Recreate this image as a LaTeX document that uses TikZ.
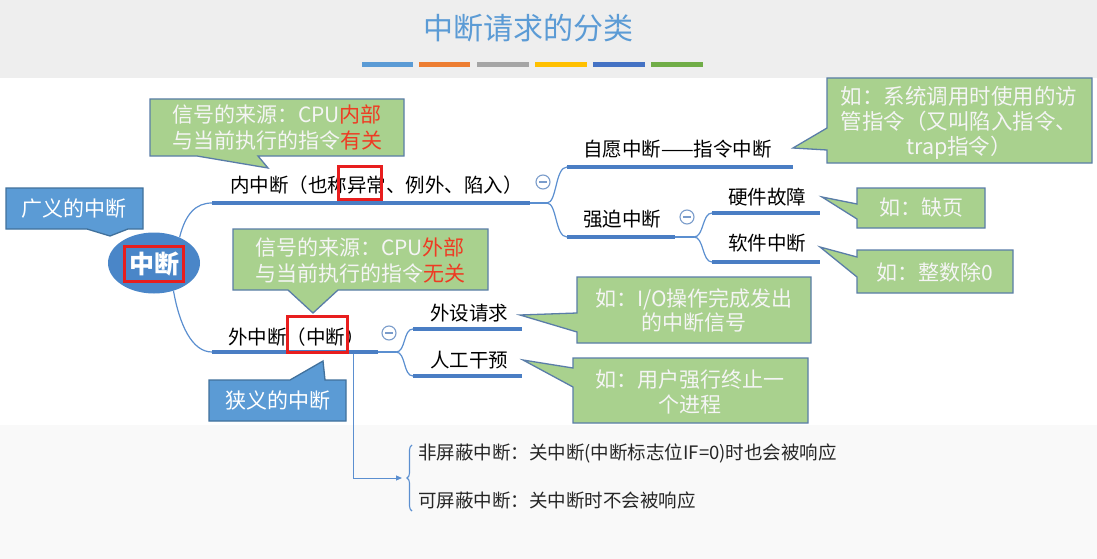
\documentclass[tikz,border=0pt]{standalone}
\usepackage{fontspec}
\setmainfont{Noto Sans CJK SC}
\usetikzlibrary{shapes.geometric,decorations.pathreplacing,arrows.meta}
\definecolor{hdr}{HTML}{EEEEEE}
\definecolor{lowbg}{HTML}{F9F9F9}
\definecolor{titleblue}{HTML}{5B9BD5}
\definecolor{bar1}{HTML}{5B9BD5}
\definecolor{bar2}{HTML}{ED7D31}
\definecolor{bar3}{HTML}{A5A5A5}
\definecolor{bar4}{HTML}{FFC000}
\definecolor{bar5}{HTML}{4472C4}
\definecolor{bar6}{HTML}{70AD47}
\definecolor{linethick}{HTML}{4A7EC4}
\definecolor{linethin}{HTML}{5B8FD0}
\definecolor{rootfill}{HTML}{4A86C8}
\definecolor{cgreen}{HTML}{A9D18E}
\definecolor{cborder}{HTML}{5A7DA8}
\definecolor{cblue}{HTML}{5B9BD5}
\definecolor{cblueb}{HTML}{41719C}
\definecolor{hired}{HTML}{EE3B23}
\definecolor{boxred}{HTML}{E81E1E}
\definecolor{mincirc}{HTML}{7A9CCB}
\tikzset{
  lbl/.style={anchor=base west, inner sep=0pt, font=\fontsize{19.5}{22}\selectfont, text=black},
  lowlbl/.style={anchor=base west, inner sep=0pt, font=\fontsize{18.5}{22}\selectfont, text=black!85},
  br/.style={draw=linethick, line width=3.5pt},
  tn/.style={draw=linethin, line width=1.2pt},
  gcall/.style={fill=cgreen, draw=cborder, line width=1.3pt, line join=miter},
  bcall/.style={fill=cblue, draw=cblueb, line width=1.3pt, line join=miter},
  ctext/.style={align=center, text=white!96!black, font=\fontsize{21}{26}\selectfont, inner sep=0pt},
  redbox/.style={draw=boxred, line width=3pt},
  minusc/.style={circle, draw=mincirc, fill=white, line width=1.1pt, minimum size=14pt, inner sep=0pt,
    path picture={\draw[mincirc, line width=1.1pt] ([xshift=-4pt]path picture bounding box.center) -- ([xshift=4pt]path picture bounding box.center);}}
}
\begin{document}
\begin{tikzpicture}[x=1pt,y=-1pt]
\useasboundingbox (0,0) rectangle (1097,559);
% backgrounds
\fill[hdr] (0,0) rectangle (1097,78);
\fill[white] (0,78) rectangle (1097,425);
\fill[lowbg] (0,425) rectangle (1097,559);
% title
\node[text=titleblue, font=\fontsize{30}{34}\selectfont, inner sep=0pt] (title) at (528,28) {中断请求的分类};
\fill[bar1] (362,62) rectangle (413,67);
\fill[bar2] (419,62) rectangle (470,67);
\fill[bar3] (477,62) rectangle (529,67);
\fill[bar4] (535,62) rectangle (587,67);
\fill[bar5] (593,62) rectangle (645,67);
\fill[bar6] (651,62) rectangle (703,67);

% root
\node[ellipse, fill=rootfill, minimum width=92pt, minimum height=61pt, inner sep=0pt] (root) at (154,263) {};
\node[text=white, font=\fontsize{25}{28}\selectfont\bfseries, inner sep=0pt] (roottxt) at (154,264) {中断};
\draw[redbox] (124,246) rectangle (183,281);

% coordinates of branch lines
\coordinate (inL) at (212,203); \coordinate (inR) at (530,203); \coordinate (inJ) at (547,203);
\coordinate (vL) at (567,167); \coordinate (vR) at (793,167);
\coordinate (fL) at (567,237); \coordinate (fR) at (675,237); \coordinate (fJ) at (694,237);
\coordinate (hL) at (712,213); \coordinate (hR) at (820,213);
\coordinate (sL) at (712,262); \coordinate (sR) at (820,262);
\coordinate (outL) at (212,352); \coordinate (outR) at (378,352); \coordinate (outJ) at (396,352);
\coordinate (pL) at (413,329); \coordinate (pR) at (522,329);
\coordinate (mL) at (413,376); \coordinate (mR) at (522,376);
\coordinate (vt) at (353,352); \coordinate (vb) at (353,478); \coordinate (arr) at (402,478);

% thin connectors
\draw[tn] (root.45) .. controls +(6,-24) and +(-16,0) .. (inL);
\draw[tn] (root.-55) .. controls +(6,34) and +(-20,0) .. (outL);
\draw[tn] (inR) -- (inJ);
\draw[tn] (inJ) .. controls +(10,0) and +(-12,0) .. (vL);
\draw[tn] (inJ) .. controls +(10,0) and +(-12,0) .. (fL);
\draw[tn] (fR) -- (fJ);
\draw[tn] (fJ) .. controls +(10,0) and +(-10,0) .. (hL);
\draw[tn] (fJ) .. controls +(10,0) and +(-10,0) .. (sL);
\draw[tn] (outR) -- (outJ);
\draw[tn] (outJ) .. controls +(10,0) and +(-10,0) .. (pL);
\draw[tn] (outJ) .. controls +(10,0) and +(-10,0) .. (mL);
\draw[linethin, line width=1pt, -{Triangle[length=6pt,width=5pt]}] (vt) -- (vb) -- (arr);

% thick lines
\draw[br] (inL) -- (inR);
\draw[br] (vL) -- (vR);
\draw[br] (fL) -- (fR);
\draw[br] (hL) -- (hR);
\draw[br] (sL) -- (sR);
\draw[br] (outL) -- (outR);
\draw[br] (pL) -- (pR);
\draw[br] (mL) -- (mR);

% minus circles
\node[minusc] (m1) at (543,182) {};
\node[minusc] (m2) at (687,217) {};
\node[minusc] (m3) at (389,333) {};

% labels
\node[lbl] (inner) at (230,192) {内中断（也称异常、例外、陷入）};
\draw[redbox] (338,166) rectangle (381,199);
\node[lbl] (vol) at (583,157) {自愿中断——指令中断};
\node[lbl] (force) at (583,226) {强迫中断};
\node[lbl] (hw) at (728,204) {硬件故障};
\node[lbl] (sw) at (728,250) {软件中断};
\node[lbl] (outer) at (228,344) {外中断（中断）};
\draw[redbox] (287,316) rectangle (347,352);
\node[lbl] (periph) at (430,320) {外设请求};
\node[lbl] (manual) at (430,367) {人工干预};

% brace and lower text
\draw[linethin, line width=1.1pt, decorate, decoration={brace, amplitude=5pt}] (412,511) -- (412,445);
\node[lowlbl] (nmi) at (418,459) {非屏蔽中断：关中断(中断标志位IF=0)时也会被响应};
\node[lowlbl] (mi) at (418,507) {可屏蔽中断：关中断时不会被响应};

% callouts: blue
\draw[bcall] (6,188) -- (143,188) -- (143,229) -- (128,229) -- (110,236) -- (87,229) -- (6,229) -- cycle;
\node[ctext, text=white] (broad) at (74,209) {广义的中断};
\draw[bcall] (209,380) -- (290,380) -- (323,361) -- (325,380) -- (346,380) -- (346,421) -- (209,421) -- cycle;
\node[ctext, text=white] (narrow) at (278,401) {狭义的中断};

% callouts: green
\draw[gcall] (150,99) -- (404,99) -- (404,156) -- (258,156) -- (268,168) -- (197,156) -- (150,156) -- cycle;
\node[ctext] (srcin) at (277,128) {信号的来源：CPU\textcolor{hired}{内部}\\与当前执行的指令\textcolor{hired}{有关}};
\draw[gcall] (233,229) -- (488,229) -- (488,290) -- (338,290) -- (313,313) -- (288,290) -- (233,290) -- cycle;
\node[ctext] (srcout) at (360,261) {信号的来源：CPU\textcolor{hired}{外部}\\与当前执行的指令\textcolor{hired}{无关}};
\draw[gcall] (827,78) -- (1092,78) -- (1092,163) -- (827,163) -- (827,150) -- (793,148) -- (827,128) -- cycle;
\node[ctext, font=\fontsize{21.5}{25}\selectfont] (trap) at (959,123) {如：系统调用时使用的访\\管指令（又叫陷入指令、\\trap指令）};
\draw[gcall] (857,188) -- (985,188) -- (985,228) -- (857,228) -- (857,219) -- (822,197) -- (857,204) -- cycle;
\node[ctext] (pf) at (921,208) {如：缺页};
\draw[gcall] (857,250) -- (1013,250) -- (1013,293) -- (857,293) -- (857,277) -- (820,247) -- (857,257) -- cycle;
\node[ctext] (div) at (935,272) {如：整数除0};
\draw[gcall] (577,277) -- (811,277) -- (811,343) -- (577,343) -- (577,332) -- (520,315) -- (577,313) -- cycle;
\node[ctext, font=\fontsize{21}{24}\selectfont] (io) at (694,310) {如：I/O操作完成发出\\的中断信号};
\draw[gcall] (573,358) -- (808,358) -- (808,423) -- (573,423) -- (573,387) -- (523,360) -- (573,368) -- cycle;
\node[ctext, font=\fontsize{21}{25}\selectfont] (kill) at (690,392) {如：用户强行终止一\\个进程};
\end{tikzpicture}
\end{document}
